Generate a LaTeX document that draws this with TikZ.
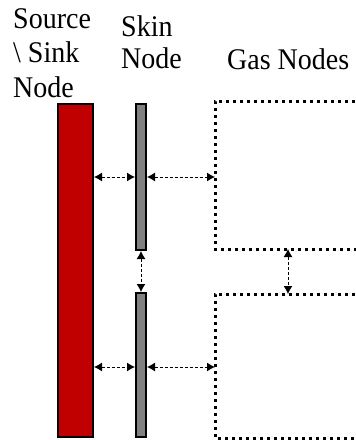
\documentclass[tikz,border=0pt]{standalone}
\usepackage{fontspec}
\setmainfont{Liberation Serif}
\newfontfamily\lblfont[FakeStretch=0.933]{Liberation Serif}
\usepackage{tikz}
\usetikzlibrary{arrows.meta}

\tikzset{
  srcbar/.style={draw=black,line width=2pt,fill={rgb,255:red,192;green,0;blue,0},minimum width=35pt,inner sep=0pt},
  skinbar/.style={draw=black,line width=2pt,fill=gray,minimum width=10pt,inner sep=0pt},
  gasline/.style={line width=3pt,dash pattern=on 3pt off 4pt},
  flow/.style={line width=1pt,dash pattern=on 3pt off 2pt,{Latex[length=8pt,width=9pt]}-{Latex[length=8pt,width=9pt]}},
  lbl/.style={align=left,inner sep=0pt,anchor=base west}
}

\begin{document}
\begin{tikzpicture}[x=1pt,y=-1pt]
\useasboundingbox (0,0) rectangle (356,440);

% labels, placed at the baseline of their last line
\node[lbl,font=\lblfont\fontsize{30}{34.4}\selectfont] (srclbl) at (13,97) {Source\\\textbackslash{} Sink\\Node};
\node[lbl,font=\lblfont\fontsize{30}{31.3}\selectfont] (skinlbl) at (121,68) {Skin\\Node};
\node[lbl,font=\lblfont\fontsize{30}{34}\selectfont] (gaslbl) at (227,69.5) {Gas Nodes};

\node[srcbar,minimum height=333pt] (src) at (75.5,270.5) {};
\node[skinbar,minimum height=146pt] (skinA) at (141,177) {};
\node[skinbar,minimum height=144pt] (skinB) at (141,365) {};

%gas nodes
\coordinate (gasA) at (215,101);
\coordinate (gasAb) at (215,249);
\coordinate (gasB) at (215,294);
\coordinate (gasBb) at (215,438);
\draw[gasline] (362,101) -- (gasA) -- (gasAb) -- (362,249);
\draw[gasline] (362,294) -- (gasB) -- (gasBb) -- (362,438);

%exchanges
\coordinate (r1) at (0,177);
\coordinate (r2) at (0,367);
\coordinate (c1) at (288,0);
\draw[flow] (src.east |- r1) -- (skinA.west |- r1);
\draw[flow] (skinA.east |- r1) -- (gasA |- r1);
\draw[flow] (src.east |- r2) -- (skinB.west |- r2);
\draw[flow] (skinB.east |- r2) -- (gasB |- r2);
\draw[flow] (skinA.south) -- (skinB.north);
\draw[flow] (gasAb -| c1) -- (gasB -| c1);
\end{tikzpicture}
\end{document}
